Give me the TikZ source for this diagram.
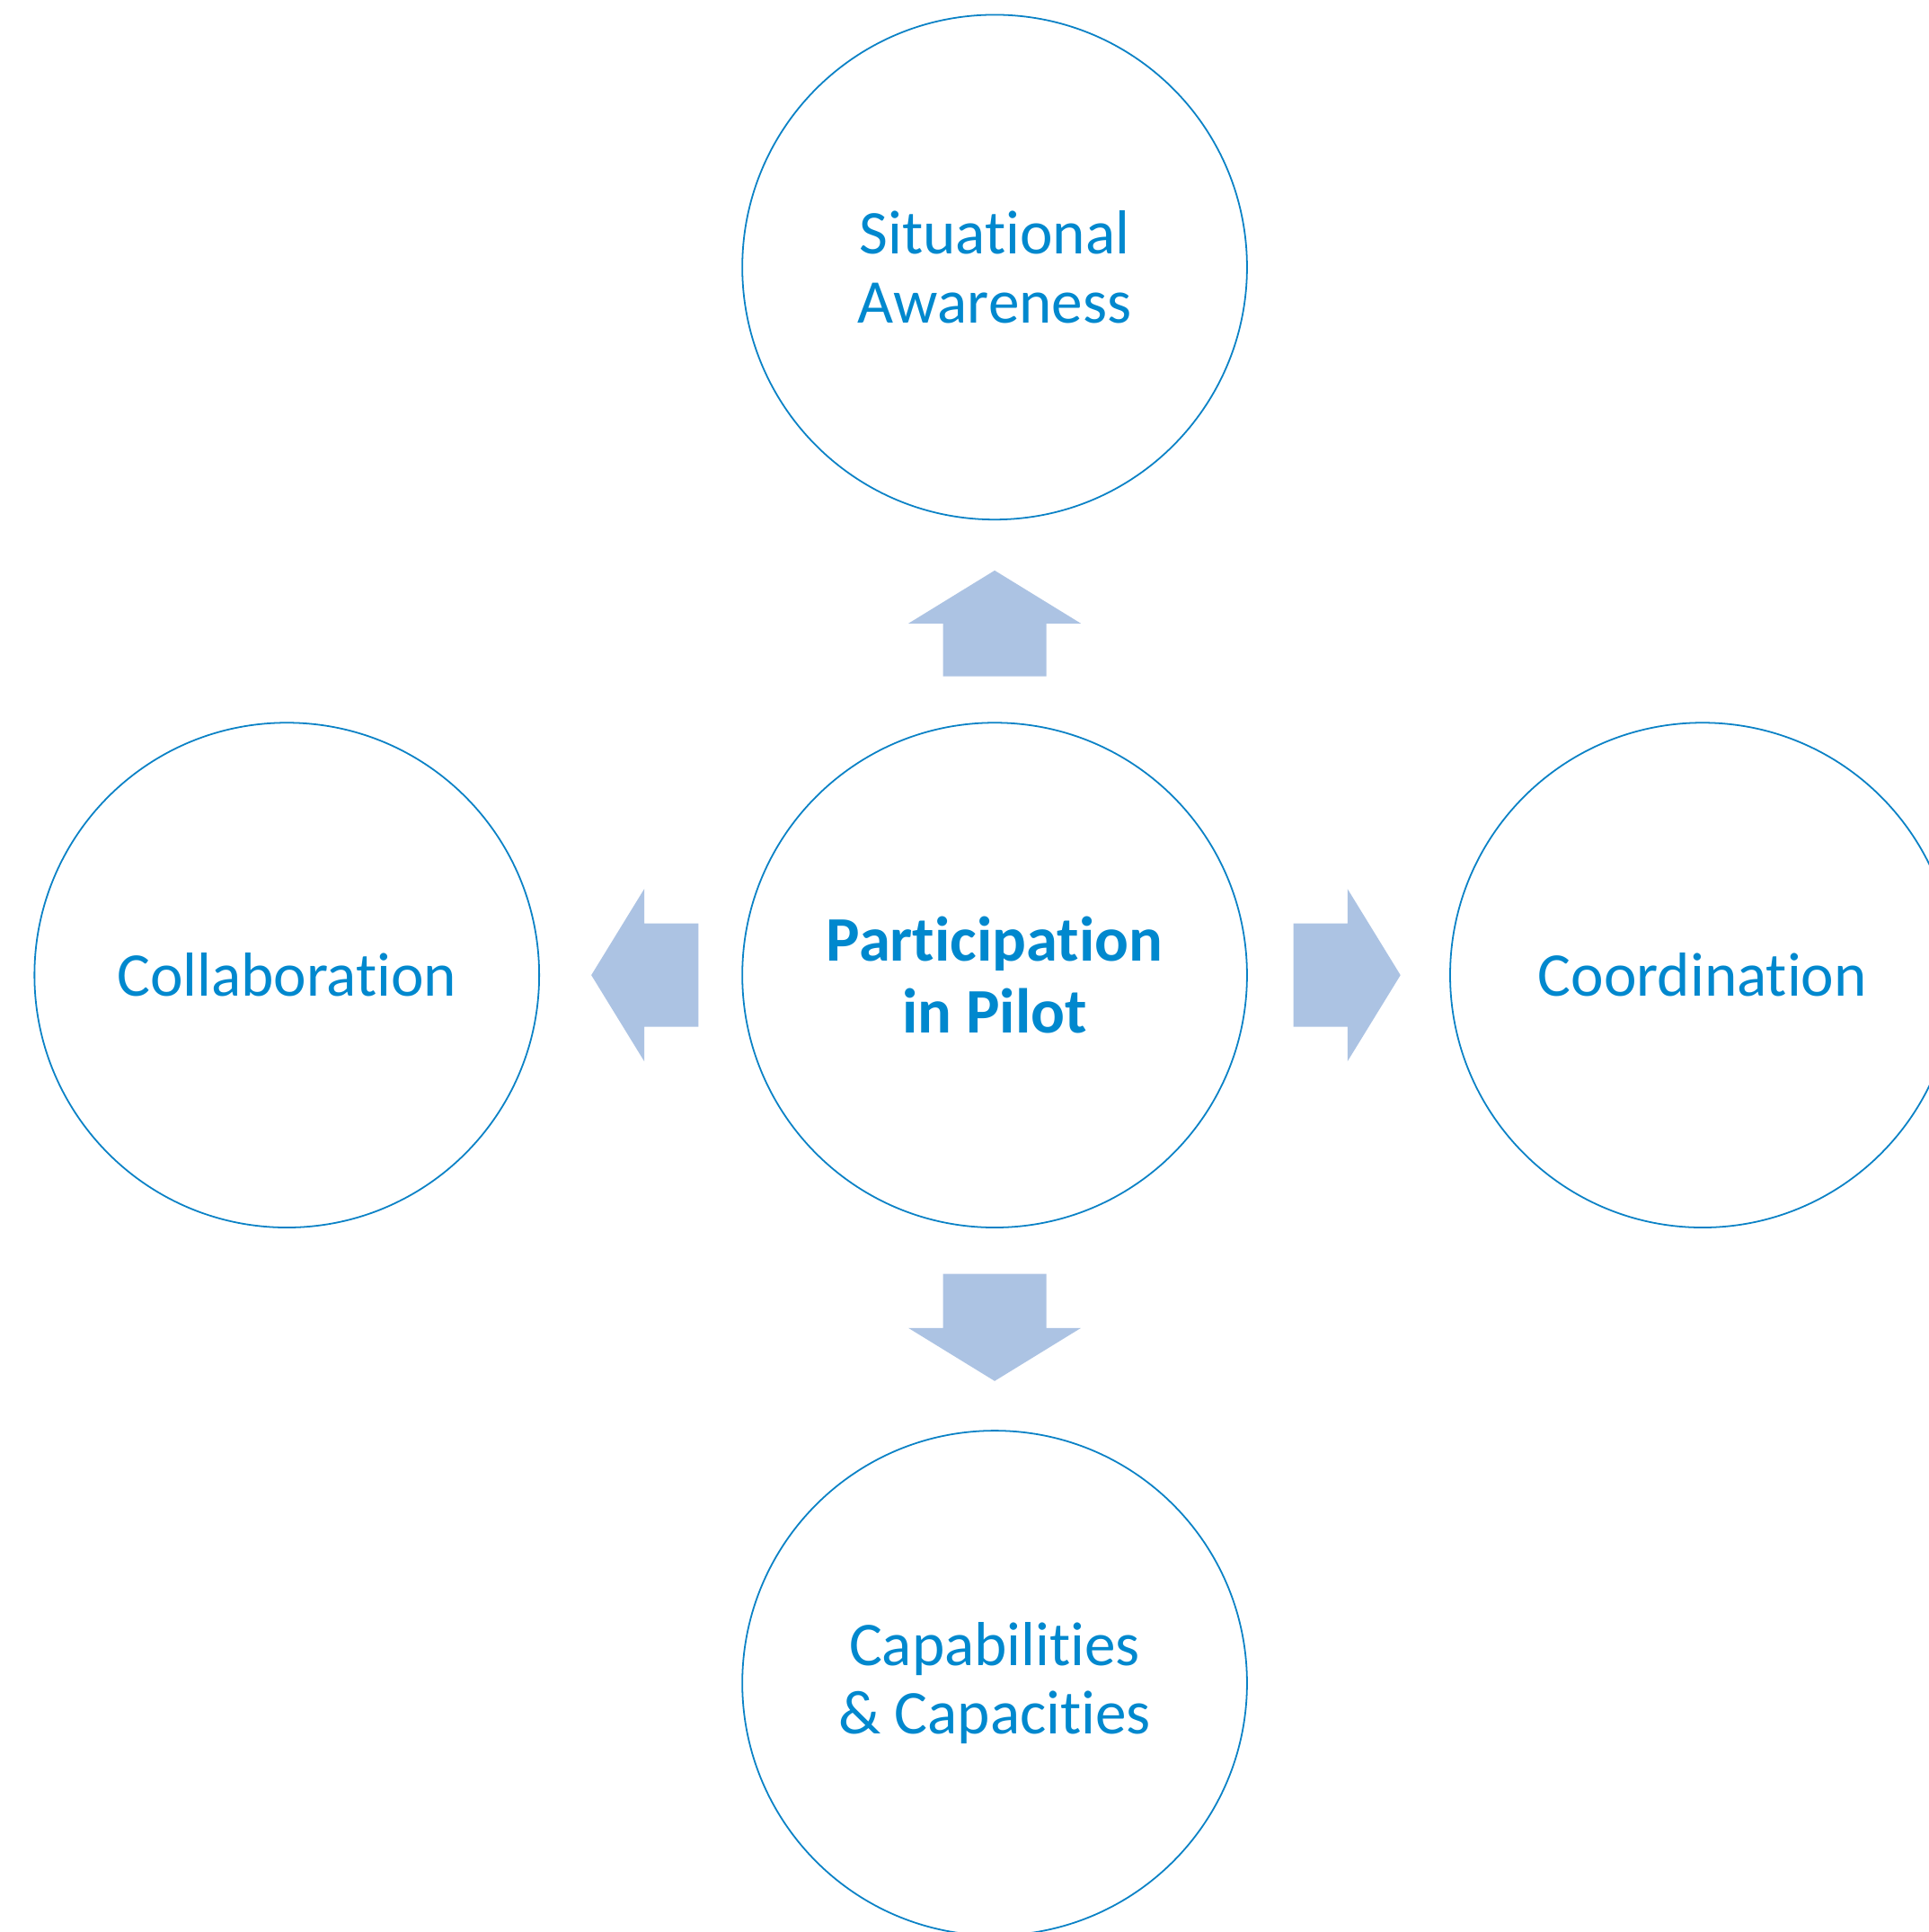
\documentclass[tikz,border=0pt]{standalone}
\usepackage{fontspec}
\setmainfont{Carlito}[RawFeature={-liga}]
\definecolor{txtblue}{HTML}{0088CE}
\definecolor{lineblue}{HTML}{0A82C6}
\definecolor{arrowblue}{HTML}{ACC3E3}
\begin{document}
\begin{tikzpicture}[x=1pt,y=-1pt,
  bubble/.style={circle, draw=lineblue, line width=1.3pt, minimum size=410pt, inner sep=0pt,
    text=txtblue, align=center, font=\fontsize{50.5}{56}\selectfont},
  hub/.style={bubble, font=\fontsize{51.5}{58}\selectfont\bfseries},
  blockarrow/.style={fill=arrowblue, draw=none}]
\clip (0,0) rectangle (1567,1569.2);
\fill[white] (0,0) rectangle (1567,1569.2);
\node[hub] (c) at (808,792) {Participation\\in Pilot};
\node[bubble] (t) at (808,217) {Situational\\Awareness};
\node[bubble] (l) at (233,792) {Collaboration};
\node[bubble] (r) at (1383,792) {Coordination};
\node[bubble] (b) at (808,1367) {Capabilities\\\& Capacities};
% up arrow
\fill[blockarrow] ([yshift=37pt]c.north) ++(-42,0) -- ++(0,-43) -- ++(-28,0) -- ++(70,-43) -- ++(70,43) -- ++(-28,0) -- ++(0,43) -- cycle;
% down arrow
\fill[blockarrow] ([yshift=-37pt]c.south) ++(-42,0) -- ++(0,44) -- ++(-28,0) -- ++(70,43) -- ++(70,-43) -- ++(-28,0) -- ++(0,-44) -- cycle;
% right arrow
\fill[blockarrow] ([xshift=37pt]c.east) ++(0,-42) -- ++(44,0) -- ++(0,-28) -- ++(43,70) -- ++(-43,70) -- ++(0,-28) -- ++(-44,0) -- cycle;
% left arrow
\fill[blockarrow] ([xshift=-35pt]c.west) ++(0,-42) -- ++(-44,0) -- ++(0,-28) -- ++(-43,70) -- ++(43,70) -- ++(0,-28) -- ++(44,0) -- cycle;
\end{tikzpicture}
\end{document}
